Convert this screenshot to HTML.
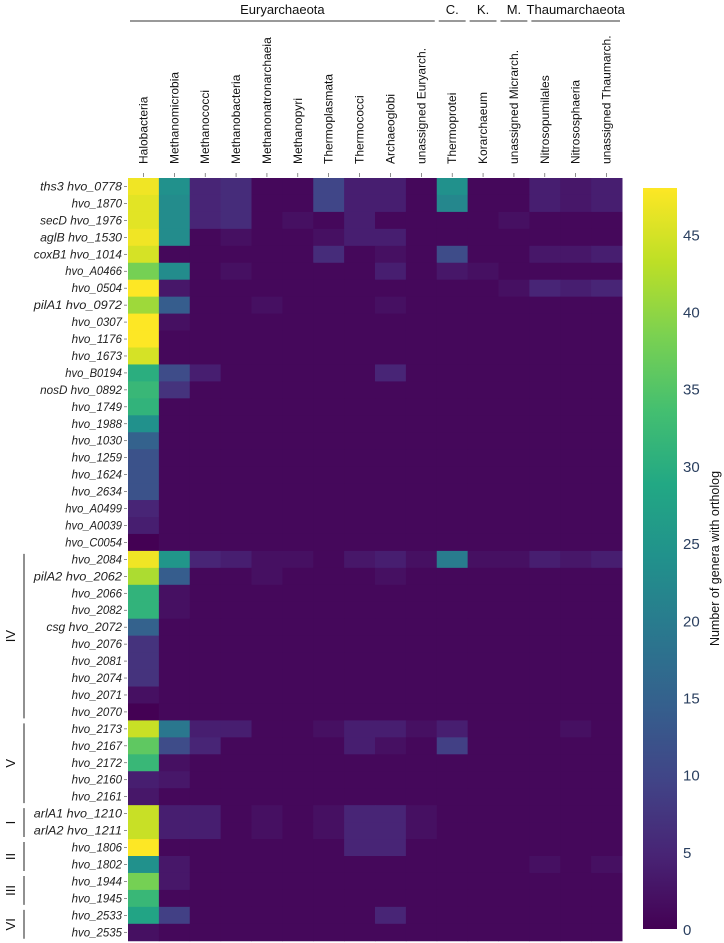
<!DOCTYPE html>
<html><head><meta charset="utf-8"><style>
html,body{margin:0;padding:0;background:#fff;}
svg{display:block;font-family:"Liberation Sans",sans-serif;}
</style></head><body>
<svg id="chart" width="724" height="943" viewBox="0 0 724 943" xmlns="http://www.w3.org/2000/svg">
<defs>
<linearGradient id="vir" x1="0" y1="1" x2="0" y2="0">
<stop offset="0" stop-color="#440154"/><stop offset="0.1" stop-color="#482475"/><stop offset="0.2" stop-color="#414487"/><stop offset="0.3" stop-color="#355f8d"/><stop offset="0.4" stop-color="#2a788e"/><stop offset="0.5" stop-color="#21918c"/><stop offset="0.6" stop-color="#22a884"/><stop offset="0.7" stop-color="#44bf70"/><stop offset="0.8" stop-color="#7ad151"/><stop offset="0.9" stop-color="#bddf26"/><stop offset="1" stop-color="#fde725"/>
</linearGradient>
</defs>
<g id="cells"></g>
<g id="axes"></g>
</svg>
<script>
const categories = ["Halobacteria","Methanomicrobia","Methanococci","Methanobacteria","Methanonatronarchaeia","Methanopyri","Thermoplasmata","Thermococci","Archaeoglobi","unassigned Euryarch.","Thermoprotei","Korarchaeum","unassigned Micrarch.","Nitrosopumilales","Nitrososphaeria","unassigned Thaumarch."];
const genePrefixes = ["ths3 ","","secD ","aglB ","coxB1 ","","","pilA1 ","","","","","nosD ","","","","","","","","","","","pilA2 ","","","csg ","","","","","","","","","","","arlA1 ","arlA2 ","","","","","",""];
const genes = ["hvo_0778","hvo_1870","hvo_1976","hvo_1530","hvo_1014","hvo_A0466","hvo_0504","hvo_0972","hvo_0307","hvo_1176","hvo_1673","hvo_B0194","hvo_0892","hvo_1749","hvo_1988","hvo_1030","hvo_1259","hvo_1624","hvo_2634","hvo_A0499","hvo_A0039","hvo_C0054","hvo_2084","hvo_2062","hvo_2066","hvo_2082","hvo_2072","hvo_2076","hvo_2081","hvo_2074","hvo_2071","hvo_2070","hvo_2173","hvo_2167","hvo_2172","hvo_2160","hvo_2161","hvo_1210","hvo_1211","hvo_1806","hvo_1802","hvo_1944","hvo_1945","hvo_2533","hvo_2535"];
const values = [
[47,24,5,6,1,1,10,4,4,1,24,1,1,4,3,4],
[46,23,5,6,1,1,10,4,4,1,22,1,1,4,3,4],
[46,23,5,6,1,2,1,4,1,1,1,1,2,1,1,1],
[47,23,1,2,1,1,2,4,4,1,1,1,1,1,1,1],
[45,1,1,1,1,1,6,1,2,1,11,1,1,3,3,4],
[38,23,1,2,1,1,1,1,4,1,3,2,1,1,1,1],
[48,3,1,1,1,1,1,1,1,1,1,1,2,5,4,5],
[41,14,1,1,2,1,1,1,2,1,1,1,1,1,1,1],
[48,2,1,1,1,1,1,1,1,1,1,1,1,1,1,1],
[48,1,1,1,1,1,1,1,1,1,1,1,1,1,1,1],
[45,1,1,1,1,1,1,1,1,1,1,1,1,1,1,1],
[30,11,4,1,1,1,1,1,5,1,1,1,1,1,1,1],
[32,7,1,1,1,1,1,1,1,1,1,1,1,1,1,1],
[31,1,1,1,1,1,1,1,1,1,1,1,1,1,1,1],
[24,1,1,1,1,1,1,1,1,1,1,1,1,1,1,1],
[15,1,1,1,1,1,1,1,1,1,1,1,1,1,1,1],
[12,1,1,1,1,1,1,1,1,1,1,1,1,1,1,1],
[12,1,1,1,1,1,1,1,1,1,1,1,1,1,1,1],
[12,1,1,1,1,1,1,1,1,1,1,1,1,1,1,1],
[5,1,1,1,1,1,1,1,1,1,1,1,1,1,1,1],
[4,1,1,1,1,1,1,1,1,1,1,1,1,1,1,1],
[0,1,1,1,1,1,1,1,1,1,1,1,1,1,1,1],
[47,25,5,4,2,2,1,3,4,2,20,2,2,4,3,4],
[42,14,1,1,2,1,1,1,2,1,1,1,1,1,1,1],
[31,2,1,1,1,1,1,1,1,1,1,1,1,1,1,1],
[31,2,1,1,1,1,1,1,1,1,1,1,1,1,1,1],
[15,1,1,1,1,1,1,1,1,1,1,1,1,1,1,1],
[7,1,1,1,1,1,1,1,1,1,1,1,1,1,1,1],
[7,1,1,1,1,1,1,1,1,1,1,1,1,1,1,1],
[7,1,1,1,1,1,1,1,1,1,1,1,1,1,1,1],
[2,1,1,1,1,1,1,1,1,1,1,1,1,1,1,1],
[0,1,1,1,1,1,1,1,1,1,1,1,1,1,1,1],
[44,19,4,4,1,1,2,4,4,2,4,1,1,1,2,1],
[36,11,5,1,1,1,1,4,2,1,9,1,1,1,1,1],
[32,2,1,1,1,1,1,1,1,1,1,1,1,1,1,1],
[4,3,1,1,1,1,1,1,1,1,1,1,1,1,1,1],
[3,1,1,1,1,1,1,1,1,1,1,1,1,1,1,1],
[44,4,4,1,2,1,2,5,5,2,1,1,1,1,1,1],
[44,4,4,1,2,1,2,5,5,2,1,1,1,1,1,1],
[48,1,1,1,1,1,1,5,5,1,1,1,1,1,1,1],
[24,3,1,1,1,1,1,1,1,1,1,1,1,2,1,2],
[38,3,1,1,1,1,1,1,1,1,1,1,1,1,1,1],
[32,1,1,1,1,1,1,1,1,1,1,1,1,1,1,1],
[28,9,1,1,1,1,1,1,5,1,1,1,1,1,1,1],
[2,1,1,1,1,1,1,1,1,1,1,1,1,1,1,1]
];
const colorbarTicks = [0,5,10,15,20,25,30,35,40,45];
const phyla = [["Euryarchaeota",0,9],["C.",10,10],["K.",11,11],["M.",12,12],["Thaumarchaeota",13,15]];
const groups = [["IV",22,31],["V",32,36],["I",37,38],["II",39,40],["III",41,42],["VI",43,44]];

const NS="http://www.w3.org/2000/svg";
const X0=128,X1=622,Y0=178,RH=16.95,VMAX=48,CB0=929,CB1=188;
const cw=(X1-X0)/categories.length;
const xPos=i=>X0+i*cw;
const yPos=r=>Y0+r*RH;
const cbY=v=>CB0-(v/VMAX)*(CB0-CB1);
const stops=[[68,1,84],[72,36,117],[65,68,135],[53,95,141],[42,120,142],[33,145,140],[34,168,132],[68,191,112],[122,209,81],[189,223,38],[253,231,37]];
function vir(v){let t=Math.max(0,Math.min(1,v/VMAX))*10;let i=Math.min(9,Math.floor(t)),f=t-i;const a=stops[i],b=stops[i+1];return `rgb(${a.map((c,k)=>Math.round(c+(b[k]-c)*f)).join(',')})`;}
function mk(tag,attrs,parent,txt){const e=document.createElementNS(NS,tag);for(const k in attrs)e.setAttribute(k,attrs[k]);if(txt!==undefined)e.textContent=txt;parent.appendChild(e);return e;}
const cells=document.getElementById('cells'),axes=document.getElementById('axes');
values.forEach((row,r)=>row.forEach((v,c)=>{
 const e=mk('rect',{x:xPos(c),y:yPos(r),width:cw+0.5,height:RH+0.5,fill:vir(v)},cells);
 
 
}));
categories.forEach((n,c)=>{
 const cx=xPos(c)+cw/2;
 const t=mk('line',{x1:cx,x2:cx,y1:173,y2:177,stroke:'#444','stroke-width':0.6},axes);
 
 
 const l=mk('text',{x:0,y:0,transform:`translate(${cx+4},164) rotate(-90)`,'font-size':12,fill:'#111'},axes,n);
 
 
});
genes.forEach((g,r)=>{
 const cy=yPos(r)+RH/2;
 const t=mk('line',{x1:124,x2:127,y1:cy,y2:cy,stroke:'#444','stroke-width':0.6},axes);
 
 
 const l=mk('text',{x:122,y:cy+4,'text-anchor':'end','font-size':12,'font-style':'italic',fill:'#222',textLength:(genePrefixes[r]+g).length*6.3,lengthAdjust:'spacingAndGlyphs'},axes,genePrefixes[r]+g);
 
 
});
phyla.forEach(p=>{
 const a=xPos(p[1])+2,b=xPos(p[2]+1)-2;
 const ln=mk('line',{x1:a,x2:b,y1:21,y2:21,stroke:'#333','stroke-width':1},axes);
 
 
 const t=mk('text',{x:(a+b)/2,y:14,'text-anchor':'middle','font-size':13,fill:'#111'},axes,p[0]);
 
 
});
groups.forEach(g=>{
 const a=yPos(g[1])+3,b=yPos(g[2]+1)-2;
 const ln=mk('line',{x1:24,x2:24,y1:a,y2:b,stroke:'#222','stroke-width':1},axes);
 
 
 const t=mk('text',{x:0,y:0,transform:`translate(15,${(a+b)/2}) rotate(-90)`,'text-anchor':'middle','font-size':13,fill:'#111'},axes,g[0]);
 
 
});
const cb=mk('rect',{x:643,y:CB1,width:34,height:CB0-CB1,fill:'url(#vir)'},axes);


colorbarTicks.forEach(v=>{
 const t=mk('text',{x:683,y:cbY(v)+6,'font-size':15,fill:'#2a3f5f'},axes,String(v));
 
 
});
const ct=mk('text',{x:0,y:0,transform:`translate(719,${(CB0+CB1)/2}) rotate(-90)`,'text-anchor':'middle','font-size':12.5,fill:'#111'},axes,'Number of genera with ortholog');


</script>
</body></html>
